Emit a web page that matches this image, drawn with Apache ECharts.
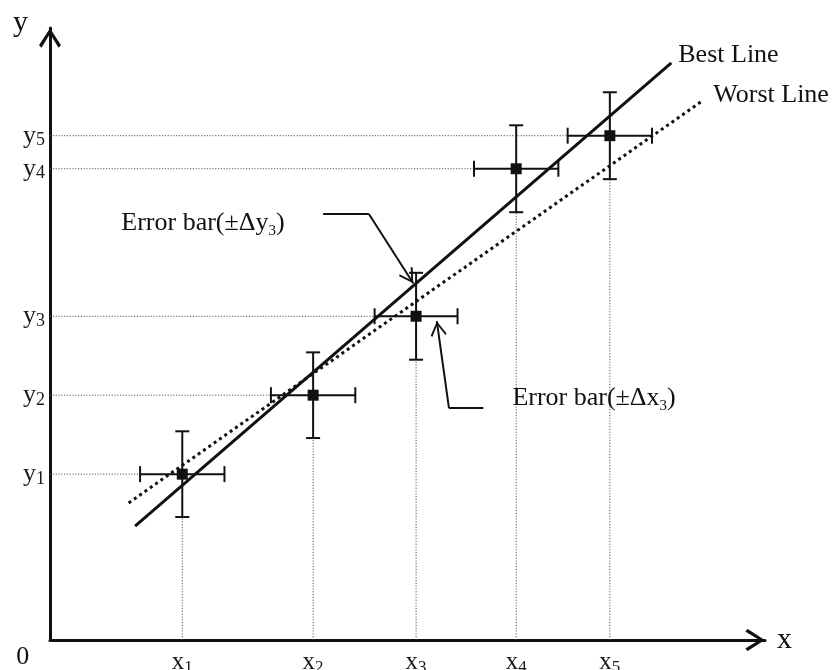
<!DOCTYPE html>
<html>
<head>
<meta charset="utf-8">
<script src="https://cdn.jsdelivr.net/npm/echarts@6/dist/echarts.min.js"></script>
<style>html,body{margin:0;padding:0;background:#fff}#c{width:832px;height:670px}</style>
</head>
<body>
<div id="c"></div>
<script>
// ---- data (arbitrary units) ----
const xValues = [1.85, 3.68, 5.12, 6.52, 7.83];
const yValues = [2.71, 4.00, 5.29, 7.70, 8.24];
const xErr = [0.59, 0.59, 0.58, 0.59, 0.59];
const yErr = [0.70, 0.70, 0.71, 0.71, 0.71];
const xTickLabels = ['{m|x}{s|1}', '{m|x}{s|2}', '{m|x}{s|3}', '{m|x}{s|4}', '{m|x}{s|5}'];
const yTickLabels = ['{m|y}{s|1}', '{m|y}{s|2}', '{m|y}{s|3}', '{m|y}{s|4}', '{m|y}{s|5}'];
const bestLine = [[1.19, 1.86], [8.69, 9.43]];
const worstLine = [[1.10, 2.24], [9.10, 8.79]];
const arrowY3 = [[3.82, 6.96], [4.46, 6.96], [5.08, 5.83]];
const arrowX3 = [[6.06, 3.79], [5.58, 3.79], [5.41, 5.21]];
const noteTexts = ['Error bar(±Δy{s|3})', 'Error bar(±Δx{s|3})', 'Best Line', 'Worst Line', '0'];
const notePos = [[0.99, 6.81], [6.46, 3.95], [8.78, 9.56], [9.27, 8.91], [-0.38, -0.28]];
const notePlace = ['right', 'right', 'right', 'right', 'inside'];

const F = '"Liberation Serif", "DejaVu Serif", serif';
const INK = '#111';
const AXIS_ARROW = 'path://M11,0 L22,17 L19.5,19.5 L11,5.5 L2.5,19.5 L0,17 Z';
const HEAD = 'path://M8,-15 M8,0 L16,13.5 L14.6,15 L8,3.6 L1.4,15 L0,13.5 Z';

const errData = xValues.map((x, i) => [x, yValues[i], xErr[i], yErr[i]]);

function renderErr(params, api) {
  const x = api.value(0), y = api.value(1), dx = api.value(2), dy = api.value(3);
  const c = api.coord([x, y]);
  const top = api.coord([x, y + dy]);
  const bot = api.coord([x, y - dy]);
  const lft = api.coord([x - dx, y]);
  const rgt = api.coord([x + dx, y]);
  const base = api.coord([x, 0]);
  const ax = api.coord([0, y]);
  const cw = 7, ch = 8;
  const s = {stroke: INK, lineWidth: 2, fill: null};
  const d = {stroke: '#555', lineWidth: 1, lineDash: [1.2, 1.6], fill: null};
  return {
    type: 'group',
    children: [
      {type: 'line', shape: {x1: ax[0], y1: c[1], x2: lft[0], y2: c[1]}, style: d},
      {type: 'line', shape: {x1: c[0], y1: base[1], x2: c[0], y2: bot[1]}, style: d},
      {type: 'line', shape: {x1: c[0], y1: top[1], x2: c[0], y2: bot[1]}, style: s},
      {type: 'line', shape: {x1: c[0] - cw, y1: top[1], x2: c[0] + cw, y2: top[1]}, style: s},
      {type: 'line', shape: {x1: c[0] - cw, y1: bot[1], x2: c[0] + cw, y2: bot[1]}, style: s},
      {type: 'line', shape: {x1: lft[0], y1: c[1], x2: rgt[0], y2: c[1]}, style: s},
      {type: 'line', shape: {x1: lft[0], y1: c[1] - ch, x2: lft[0], y2: c[1] + ch}, style: s},
      {type: 'line', shape: {x1: rgt[0], y1: c[1] - ch, x2: rgt[0], y2: c[1] + ch}, style: s}
    ]
  };
}

function annot(pts) {
  return {
    type: 'line', data: pts.slice(0, 2), symbol: 'none', silent: true,
    lineStyle: {color: INK, width: 2},
    markLine: {
      silent: true, animation: false,
      symbol: ['none', HEAD], symbolSize: [16, 30],
      label: {show: false},
      lineStyle: {color: INK, width: 2, type: 'solid'},
      emphasis: {disabled: true},
      data: [[{coord: pts[1]}, {coord: pts[2]}]]
    }
  };
}

const tickRichX = {
  m: {fontFamily: F, fontSize: 25, lineHeight: 28, color: '#1a1a1a'},
  s: {fontFamily: F, fontSize: 17, lineHeight: 11, verticalAlign: 'bottom', color: '#1a1a1a'}
};
const tickRichY = {
  m: {fontFamily: F, fontSize: 26, lineHeight: 28, color: '#1a1a1a'},
  s: {fontFamily: F, fontSize: 18, lineHeight: 11, verticalAlign: 'bottom', color: '#1a1a1a'}
};

const option = {
  animation: false,
  backgroundColor: '#fff',
  grid: {left: 50, right: 67, top: 28, bottom: 30, containLabel: false, outerBoundsMode: 'none'},
  xAxis: {
    type: 'value', min: 0, max: 10,
    name: 'x', nameLocation: 'end', nameGap: 12, nameMoveOverlap: false,
    nameTextStyle: {fontFamily: F, fontSize: 30, color: INK, align: 'left', verticalAlign: 'middle', padding: [24, 0, 0, 0]},
    axisLine: {show: true, onZero: false, symbol: ['none', AXIS_ARROW], symbolSize: [22, 20], symbolOffset: [0, -10],
      lineStyle: {color: INK, width: 3}},
    axisTick: {show: false},
    splitLine: {show: false},
    axisLabel: {
      customValues: xValues, margin: 8, fontFamily: F, fontSize: 25, color: '#1a1a1a',
      formatter: v => { const i = xValues.indexOf(v); return i < 0 ? '' : xTickLabels[i]; },
      rich: tickRichX
    }
  },
  yAxis: {
    type: 'value', min: 0, max: 10,
    name: 'y', nameLocation: 'end', nameGap: 5, nameMoveOverlap: false,
    nameTextStyle: {fontFamily: F, fontSize: 30, color: INK, align: 'right', verticalAlign: 'middle', padding: [0, 22, 0, 0]},
    axisLine: {show: true, onZero: false, symbol: ['none', AXIS_ARROW], symbolSize: [22, 20], symbolOffset: [0, -10],
      lineStyle: {color: INK, width: 3}},
    axisTick: {show: false},
    splitLine: {show: false},
    axisLabel: {
      customValues: yValues, margin: 5, fontFamily: F, fontSize: 26, color: '#1a1a1a',
      formatter: v => { const i = yValues.indexOf(v); return i < 0 ? '' : yTickLabels[i]; },
      rich: tickRichY
    }
  },
  series: [
    {type: 'custom', renderItem: renderErr, data: errData, encode: {x: 0, y: 1}, silent: true, z: 2},
    {type: 'line', data: bestLine, symbol: 'none', silent: true, z: 3, lineStyle: {color: INK, width: 3}},
    {type: 'line', data: worstLine, symbol: 'none', silent: true, z: 3, lineStyle: {color: INK, width: 3, type: [3, 3.5]}},
    {type: 'scatter', data: xValues.map((x, i) => [x, yValues[i]]), symbol: 'rect', symbolSize: 11, silent: true, z: 4,
      itemStyle: {color: INK, opacity: 1}},
    annot(arrowY3),
    annot(arrowX3),
    {
      type: 'scatter', silent: true, clip: false, z: 5, symbolSize: 1,
      itemStyle: {color: 'rgba(0,0,0,0)', opacity: 1},
      data: noteTexts.map((t, i) => ({value: [notePos[i][0], notePos[i][1]], name: t, label: {position: notePlace[i]}})),
      label: {
        show: true, distance: 0, formatter: p => p.name,
        fontFamily: F, fontSize: 26, lineHeight: 30, color: '#111',
        rich: {s: {fontFamily: F, fontSize: 15, lineHeight: 16, verticalAlign: 'bottom', color: '#111'}}
      }
    }
  ]
};

const chart = echarts.init(document.getElementById('c'), null, {renderer: 'canvas'});
chart.setOption(option);
</script>
</body>
</html>
